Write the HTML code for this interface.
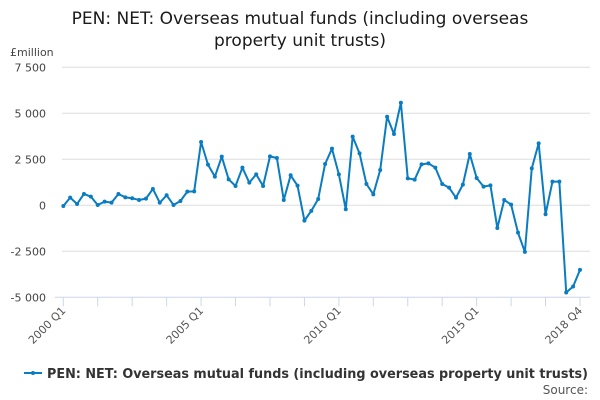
<!DOCTYPE html>
<html><head><meta charset="utf-8"><style>
body{margin:0;background:#fff;}
svg{display:block;font-family:"DejaVu Sans","Liberation Sans",sans-serif;}
</style></head><body>
<svg id="c" width="600" height="400" viewBox="0 0 600 400">
<text x="300" y="24" text-anchor="middle" font-size="17" fill="#1a1a1a">PEN: NET: Overseas mutual funds (including overseas</text>
<text x="300" y="46" text-anchor="middle" font-size="17" fill="#1a1a1a">property unit trusts)</text>
<text x="10" y="56" font-size="11" fill="#444">£million</text>
<g id="grid"></g><g id="xax"></g><g id="series"></g>
<g>
<line x1="24" y1="373" x2="42" y2="373" stroke="#0a7cc1" stroke-width="2"/>
<circle cx="33" cy="373" r="2" fill="#0a7cc1"/>
<text x="47" y="378" font-size="13" font-weight="bold" fill="#333" textLength="541" lengthAdjust="spacingAndGlyphs">PEN: NET: Overseas mutual funds (including overseas property unit trusts)</text>
</g>
<text x="588" y="394" text-anchor="end" font-size="12" fill="#555">Source:</text>
</svg>
<script>
const values=[-36,416,72,615,470,18,200,145,615,434,380,290,362,887,145,543,18,235,742,760,
3440,2210,1557,2643,1412,1050,2045,1231,1683,1050,2660,2570,290,1630,1068,-833,-300,344,2245,3077,
1683,-217,3729,2824,1158,597,1919,4815,3873,5575,1466,1394,2226,2281,2045,1158,959,416,1122,2787,
1484,1014,1086,-1231,290,36,-1484,-2534,2009,3367,-489,1285,1285,-4742,-4416,-3511];
const yTicks=[7500,5000,2500,0,-2500,-5000];
const yTickLabels=["7 500","5 000","2 500","0","-2 500","-5 000"];
const xLabelIdx=[0,20,40,60,75];
const xLabels=["2000 Q1","2005 Q1","2010 Q1","2015 Q1","2018 Q4"];
const NS="http://www.w3.org/2000/svg";
const x0=63.3,x1=580,yZero=205.3,pxPer=46/2500;
const X=i=>x0+i*(x1-x0)/(values.length-1);
const Y=v=>yZero-v*pxPer;
function mk(t,a,p){const e=document.createElementNS(NS,t);for(const k in a)e.setAttribute(k,a[k]);p.appendChild(e);return e;}
const grid=document.getElementById('grid'),xax=document.getElementById('xax'),ser=document.getElementById('series');
yTicks.forEach((v,i)=>{
  if(v!==-5000){const l=mk('line',{x1:62,x2:590,y1:Y(v),y2:Y(v),stroke:'#dddddd','stroke-width':1},grid);
  
  }
  const t=mk('text',{x:46,y:Y(v)+4,'text-anchor':'end','font-size':11,fill:'#444'},grid);
  
  
  t.textContent=yTickLabels[i];
});
const ax=mk('line',{x1:55,x2:590,y1:Y(-5000),y2:Y(-5000),stroke:'#ccd6eb','stroke-width':1},xax);


for(let i=0;i<values.length;i+=5){
  const l=mk('line',{x1:X(i),x2:X(i),y1:Y(-5000),y2:Y(-5000)+9,stroke:'#ccd6eb','stroke-width':1},xax);
  
  
}
xLabelIdx.forEach((idx,i)=>{
  const x=X(idx)+3,y=Y(-5000)+14;
  const t=mk('text',{x:x,y:y,'text-anchor':'end','font-size':11,fill:'#555',transform:`rotate(-45 ${x} ${y})`},xax);
  
  
  t.textContent=xLabels[i];
});
const pl=mk('polyline',{points:values.map((v,i)=>X(i)+','+Y(v)).join(' '),fill:'none',stroke:'#0a7cc1','stroke-width':2,'stroke-linejoin':'round'},ser);


values.forEach((v,i)=>{
  const c=mk('circle',{cx:X(i),cy:Y(v),r:2,fill:'#0a7cc1'},ser);
  
  
});
</script>
</body></html>
